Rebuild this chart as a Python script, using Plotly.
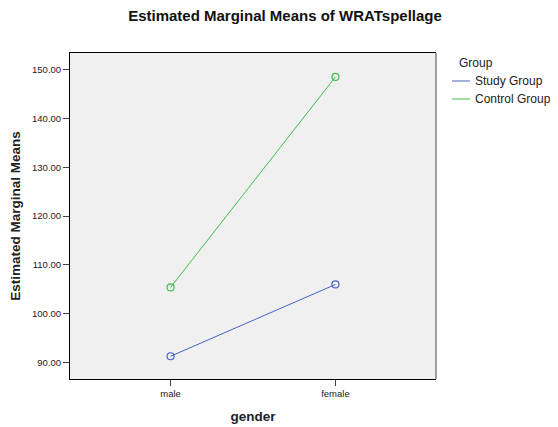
import plotly.graph_objects as go

genders = ["male", "female"]
study_means = [91.3, 106.0]
control_means = [105.4, 148.5]
y_ticks = [90, 100, 110, 120, 130, 140, 150]
group_names = ["Study Group", "Control Group"]

FONT = "Liberation Sans, Arial, sans-serif"
COLORS = ["#4a62c4", "#3cbf48"]

# plot box in figure pixels (used to place the hand-drawn legend)
L, T, W, H = 62, 45, 366, 326


def px_x(fx):
    return (fx - L) / W


def px_y(fy):
    return 1 - (fy - T) / H


fig = go.Figure()
for name, values, color in zip(group_names, (study_means, control_means), COLORS):
    fig.add_trace(
        go.Scatter(
            x=[0, 1],
            y=values,
            mode="lines+markers",
            name=name,
            showlegend=False,
            line={"color": color, "width": 1},
            marker={"symbol": "circle-open", "size": 7, "color": color, "line": {"width": 1.2}},
        )
    )

fig.add_annotation(
    xref="paper", yref="paper", x=px_x(468), y=px_y(55),
    text="Group", showarrow=False, xanchor="center", yanchor="middle",
    font={"size": 12, "color": "#222"},
)
for i, (name, color) in enumerate(zip(group_names, COLORS)):
    fy = 73 + 18 * i
    fig.add_shape(
        type="line", xref="paper", yref="paper",
        x0=px_x(444), x1=px_x(462), y0=px_y(fy), y1=px_y(fy),
        line={"color": color, "width": 1},
    )
    fig.add_annotation(
        xref="paper", yref="paper", x=px_x(465), y=px_y(fy),
        text=name, showarrow=False, xanchor="left", yanchor="middle",
        font={"size": 12, "color": "#222"},
    )

# grey right edge of the plot frame
fig.add_shape(
    type="line", xref="paper", yref="paper", x0=1, x1=1, y0=0, y1=1,
    line={"color": "#808080", "width": 1.5},
)

fig.update_layout(
    width=558,
    height=427,
    margin={"l": L, "r": 558 - L - W, "t": T, "b": 427 - T - H},
    paper_bgcolor="white",
    plot_bgcolor="#f0f0f0",
    font={"family": FONT, "color": "#222"},
    title={
        "text": "<b>Estimated Marginal Means of WRATspellage</b>",
        "x": 277 / 558,
        "xanchor": "center",
        "y": 1 - 8 / 427,
        "yanchor": "middle",
        "font": {"size": 15, "color": "#111"},
    },
    showlegend=False,
)
fig.update_xaxes(
    range=[-0.61, 1.61],
    tickmode="array",
    tickvals=[0, 1],
    ticktext=genders,
    ticks="outside",
    ticklen=6,
    tickcolor="#444",
    tickfont={"size": 9.5},
    showgrid=False,
    zeroline=False,
    showline=True,
    linecolor="black",
    linewidth=1,
    mirror=True,
    automargin=False,
    title={"text": "<b>gender</b>", "font": {"size": 13.5}, "standoff": 13},
)
fig.update_yaxes(
    range=[86.64, 153.4],
    tickmode="array",
    tickvals=y_ticks,
    ticktext=[f"{v:.2f}" for v in y_ticks],
    ticks="outside",
    ticklen=6,
    tickcolor="#444",
    tickfont={"size": 9.5},
    showgrid=False,
    zeroline=False,
    showline=True,
    linecolor="black",
    linewidth=1,
    mirror=False,
    automargin=False,
    title={"text": "<b>Estimated Marginal Means</b>", "font": {"size": 13.5}, "standoff": 9},
)

fig.write_html("out.html")
